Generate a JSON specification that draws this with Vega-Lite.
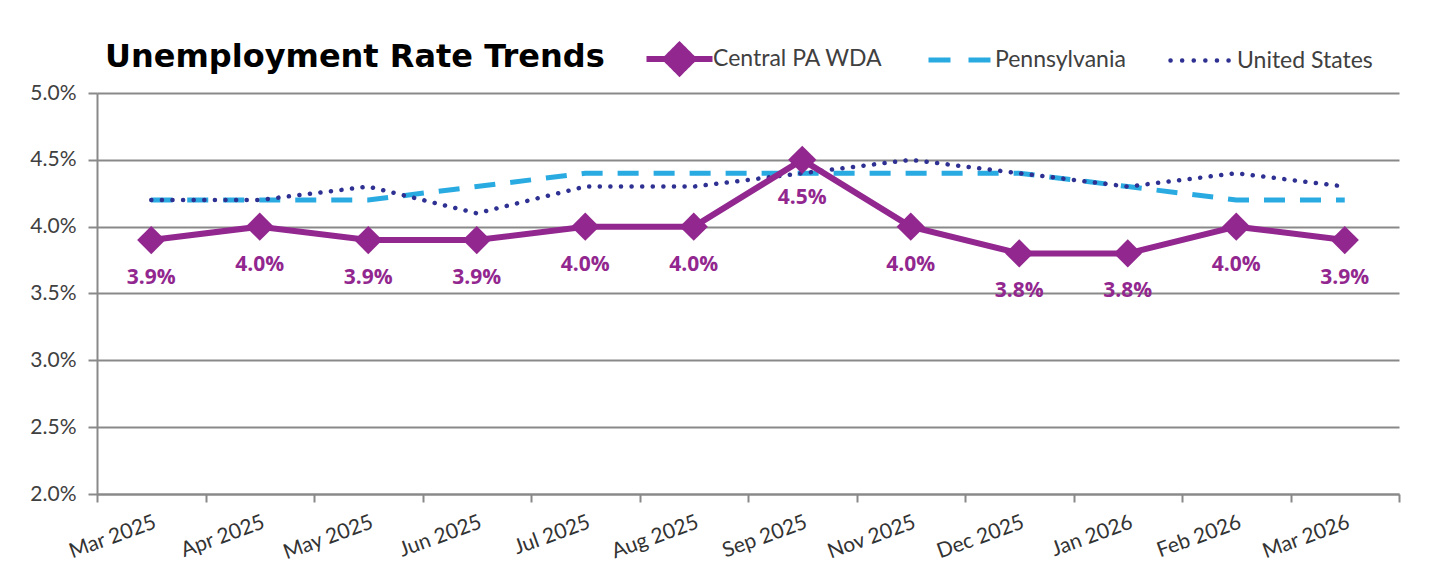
{
  "$schema": "https://vega.github.io/schema/vega-lite/v6.json",
  "width": 1302,
  "height": 401,
  "autosize": "none",
  "padding": {"left": 97, "top": 93, "right": 46, "bottom": 86},
  "background": "white",
  "title": {
    "text": "Unemployment Rate Trends",
    "anchor": "start",
    "frame": "group",
    "font": "DejaVu Sans",
    "fontSize": 32,
    "fontWeight": "bold",
    "color": "#000000",
    "dx": 8,
    "offset": -31
  },
  "data": {
    "values": [
      {"month": "Mar 2025", "series": "Central PA WDA", "rate": 0.039},
      {"month": "Apr 2025", "series": "Central PA WDA", "rate": 0.040},
      {"month": "May 2025", "series": "Central PA WDA", "rate": 0.039},
      {"month": "Jun 2025", "series": "Central PA WDA", "rate": 0.039},
      {"month": "Jul 2025", "series": "Central PA WDA", "rate": 0.040},
      {"month": "Aug 2025", "series": "Central PA WDA", "rate": 0.040},
      {"month": "Sep 2025", "series": "Central PA WDA", "rate": 0.045},
      {"month": "Nov 2025", "series": "Central PA WDA", "rate": 0.040},
      {"month": "Dec 2025", "series": "Central PA WDA", "rate": 0.038},
      {"month": "Jan 2026", "series": "Central PA WDA", "rate": 0.038},
      {"month": "Feb 2026", "series": "Central PA WDA", "rate": 0.040},
      {"month": "Mar 2026", "series": "Central PA WDA", "rate": 0.039},
      {"month": "Mar 2025", "series": "Pennsylvania", "rate": 0.042},
      {"month": "Apr 2025", "series": "Pennsylvania", "rate": 0.042},
      {"month": "May 2025", "series": "Pennsylvania", "rate": 0.042},
      {"month": "Jun 2025", "series": "Pennsylvania", "rate": 0.043},
      {"month": "Jul 2025", "series": "Pennsylvania", "rate": 0.044},
      {"month": "Aug 2025", "series": "Pennsylvania", "rate": 0.044},
      {"month": "Sep 2025", "series": "Pennsylvania", "rate": 0.044},
      {"month": "Nov 2025", "series": "Pennsylvania", "rate": 0.044},
      {"month": "Dec 2025", "series": "Pennsylvania", "rate": 0.044},
      {"month": "Jan 2026", "series": "Pennsylvania", "rate": 0.043},
      {"month": "Feb 2026", "series": "Pennsylvania", "rate": 0.042},
      {"month": "Mar 2026", "series": "Pennsylvania", "rate": 0.042},
      {"month": "Mar 2025", "series": "United States", "rate": 0.042},
      {"month": "Apr 2025", "series": "United States", "rate": 0.042},
      {"month": "May 2025", "series": "United States", "rate": 0.043},
      {"month": "Jun 2025", "series": "United States", "rate": 0.041},
      {"month": "Jul 2025", "series": "United States", "rate": 0.043},
      {"month": "Aug 2025", "series": "United States", "rate": 0.043},
      {"month": "Sep 2025", "series": "United States", "rate": 0.044},
      {"month": "Nov 2025", "series": "United States", "rate": 0.045},
      {"month": "Dec 2025", "series": "United States", "rate": 0.044},
      {"month": "Jan 2026", "series": "United States", "rate": 0.043},
      {"month": "Feb 2026", "series": "United States", "rate": 0.044},
      {"month": "Mar 2026", "series": "United States", "rate": 0.043}
    ]
  },
  "encoding": {
    "x": {
      "field": "month",
      "type": "nominal",
      "sort": ["Mar 2025", "Apr 2025", "May 2025", "Jun 2025", "Jul 2025", "Aug 2025", "Sep 2025", "Nov 2025", "Dec 2025", "Jan 2026", "Feb 2026", "Mar 2026"],
      "scale": {"type": "band", "paddingInner": 0, "paddingOuter": 0},
      "axis": {
        "title": null,
        "labelAngle": -20,
        "labelAlign": "right",
        "labelBaseline": "top",
        "labelFont": "Lato",
        "labelFontSize": 21,
        "labelColor": "#333333",
        "labelPadding": 9,
        "tickBand": "extent",
        "tickSize": 8,
        "tickWidth": 2,
        "tickColor": "#898989",
        "domainColor": "#898989",
        "domainWidth": 2,
        "grid": false
      }
    },
    "y": {
      "field": "rate",
      "type": "quantitative",
      "scale": {"domain": [0.02, 0.05], "zero": false, "nice": false},
      "axis": {
        "title": null,
        "format": ".1%",
        "values": [0.02, 0.025, 0.03, 0.035, 0.04, 0.045, 0.05],
        "labelFont": "Lato",
        "labelFontSize": 21,
        "labelColor": "#404040",
        "labelPadding": 12,
        "tickSize": 9,
        "tickWidth": 2,
        "tickColor": "#898989",
        "domainColor": "#898989",
        "domainWidth": 2,
        "grid": true,
        "gridColor": "#898989",
        "gridWidth": 2
      }
    },
    "color": {
      "field": "series",
      "type": "nominal",
      "scale": {
        "domain": ["Central PA WDA", "Pennsylvania", "United States"],
        "range": ["#92278F", "#29ABE2", "#2E3192"]
      },
      "legend": {
        "title": null,
        "orient": "none",
        "direction": "horizontal",
        "legendX": 571,
        "legendY": -50,
        "padding": 0,
        "symbolSize": 4356,
        "labelFont": "Lato",
        "labelFontSize": 23,
        "labelColor": "#404040",
        "labelOffset": 22,
        "labelLimit": 400,
        "columnPadding": 35,
        "encode": {
          "symbols": {
            "update": {
              "y": {"value": 16},
              "shape": {"signal": "datum.value === 'Central PA WDA' ? 'M-1,0H1M0,-0.42L0.42,0L0,0.42L-0.42,0Z' : 'M-1,0H1M0,-0.42M0,0.42'"},
              "strokeDash": {"signal": "datum.value === 'Pennsylvania' ? [22,18] : (datum.value === 'United States' ? [0.1,11.5] : [1,0])"},
              "strokeWidth": {"signal": "datum.value === 'Central PA WDA' ? 6 : (datum.value === 'Pennsylvania' ? 5 : 4.5)"},
              "strokeCap": {"signal": "datum.value === 'United States' ? 'round' : 'butt'"},
              "fill": {"signal": "datum.value === 'Central PA WDA' ? '#92278F' : 'transparent'"},
              "stroke": {"scale": "color", "field": "value"},
              "opacity": {"value": 1}
            }
          },
          "labels": {
            "update": {
              "y": {"value": 16},
              "baseline": {"value": "middle"}
            }
          }
        }
      }
    }
  },
  "layer": [
    {
      "transform": [{"filter": "datum.series === 'Pennsylvania'"}],
      "mark": {"type": "line", "strokeWidth": 5, "strokeDash": [21, 15]}
    },
    {
      "transform": [{"filter": "datum.series === 'United States'"}],
      "mark": {"type": "line", "strokeWidth": 4.5, "strokeDash": [0.1, 10.5], "strokeCap": "round"}
    },
    {
      "transform": [{"filter": "datum.series === 'Central PA WDA'"}],
      "mark": {"type": "line", "strokeWidth": 6}
    },
    {
      "transform": [{"filter": "datum.series === 'Central PA WDA'"}],
      "mark": {"type": "point", "shape": "diamond", "filled": true, "size": 800, "opacity": 1}
    },
    {
      "transform": [{"filter": "datum.series === 'Central PA WDA'"}],
      "mark": {"type": "text", "dy": 38, "font": "Open Sans", "fontSize": 21, "fontWeight": "bold", "baseline": "middle"},
      "encoding": {
        "text": {"field": "rate", "type": "quantitative", "format": ".1%"}
      }
    }
  ],
  "config": {
    "view": {"stroke": null}
  }
}
